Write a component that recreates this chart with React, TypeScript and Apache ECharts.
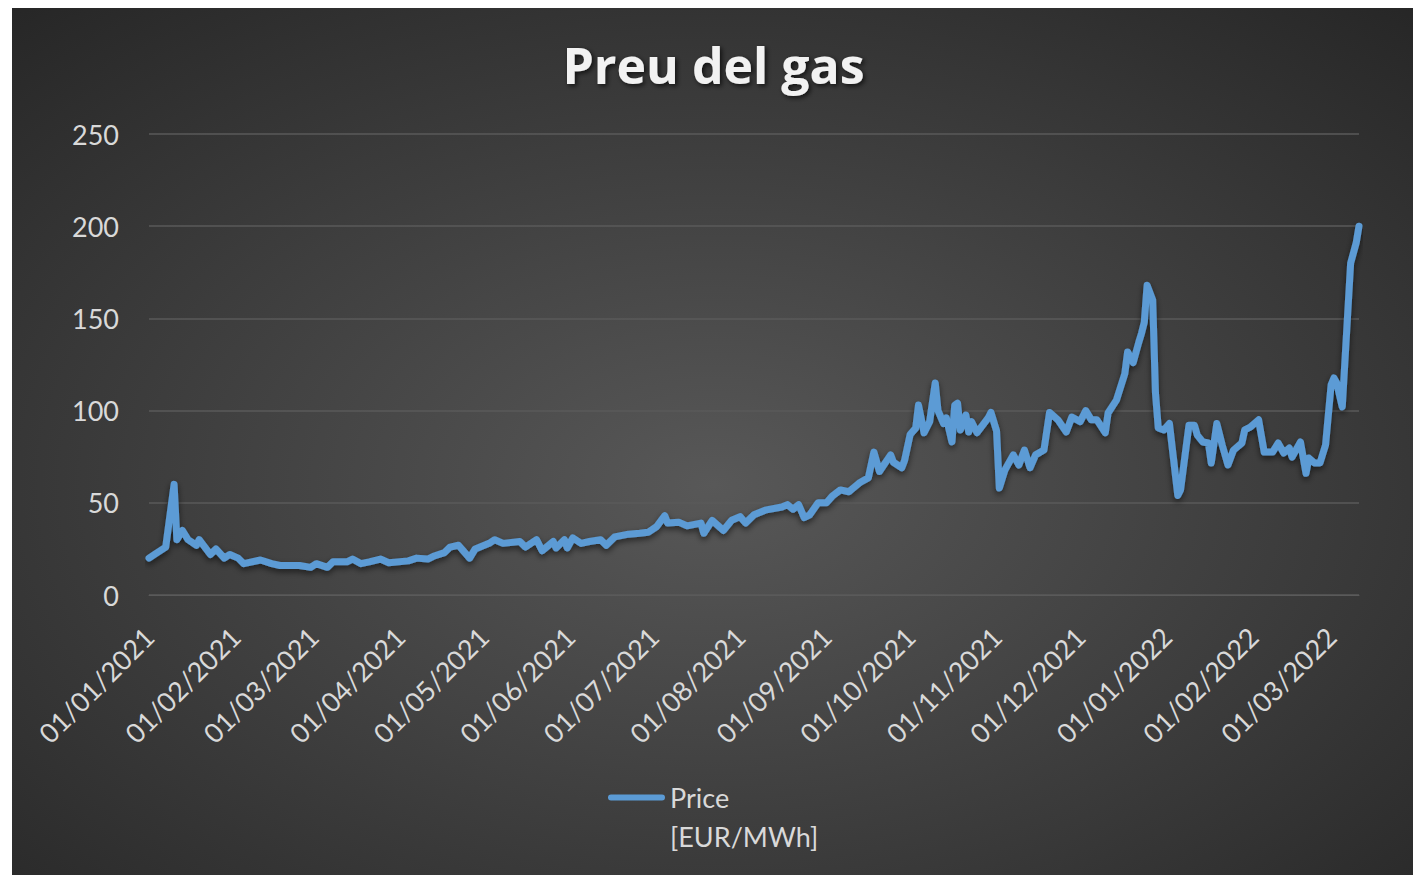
import React, { useEffect, useRef } from "react";
import * as echarts from "echarts";

const title = "Preu del gas";
const seriesName = "Price [EUR/MWh]";
const legendLines = ["Price", "[EUR/MWh]"];

const dates: string[] = [
  "2021-01-01","2021-01-03","2021-01-07","2021-01-10","2021-01-11","2021-01-13","2021-01-15","2021-01-18","2021-01-19","2021-01-23","2021-01-25","2021-01-28","2021-01-30",
  "2021-02-02","2021-02-04","2021-02-10","2021-02-14","2021-02-17","2021-02-24","2021-02-28",
  "2021-03-02","2021-03-06","2021-03-08","2021-03-13","2021-03-15","2021-03-18","2021-03-21","2021-03-25","2021-03-28",
  "2021-04-04","2021-04-07","2021-04-11","2021-04-13","2021-04-17","2021-04-19","2021-04-22","2021-04-26","2021-04-28",
  "2021-05-03","2021-05-05","2021-05-08","2021-05-14","2021-05-16","2021-05-20","2021-05-22","2021-05-26","2021-05-27","2021-05-30","2021-05-31",
  "2021-06-02","2021-06-05","2021-06-08","2021-06-12","2021-06-14","2021-06-17","2021-06-22","2021-06-26","2021-06-29",
  "2021-07-02","2021-07-05","2021-07-06","2021-07-10","2021-07-13","2021-07-18","2021-07-19","2021-07-22","2021-07-26","2021-07-29",
  "2021-08-01","2021-08-03","2021-08-06","2021-08-10","2021-08-16","2021-08-18","2021-08-20","2021-08-22","2021-08-24","2021-08-26","2021-08-29",
  "2021-09-01","2021-09-03","2021-09-06","2021-09-09","2021-09-11","2021-09-13","2021-09-16","2021-09-18","2021-09-20","2021-09-24","2021-09-25","2021-09-28","2021-09-29",
  "2021-10-01","2021-10-03","2021-10-04","2021-10-06","2021-10-08","2021-10-10","2021-10-11","2021-10-13","2021-10-14","2021-10-16","2021-10-17","2021-10-18","2021-10-19","2021-10-21","2021-10-22","2021-10-23","2021-10-25","2021-10-29","2021-10-30",
  "2021-11-01","2021-11-02","2021-11-04","2021-11-07","2021-11-09","2021-11-11","2021-11-13","2021-11-15","2021-11-18","2021-11-20","2021-11-23","2021-11-26","2021-11-28",
  "2021-12-01","2021-12-03","2021-12-05","2021-12-07","2021-12-10","2021-12-11","2021-12-14","2021-12-17","2021-12-18","2021-12-20","2021-12-22","2021-12-23","2021-12-24","2021-12-25","2021-12-27","2021-12-28","2021-12-29","2021-12-31",
  "2022-01-02","2022-01-03","2022-01-05","2022-01-06","2022-01-09","2022-01-11","2022-01-12","2022-01-14","2022-01-16","2022-01-17","2022-01-19","2022-01-21","2022-01-23","2022-01-25","2022-01-28","2022-01-29","2022-01-31",
  "2022-02-03","2022-02-05","2022-02-08","2022-02-10","2022-02-12","2022-02-14","2022-02-15","2022-02-18","2022-02-20","2022-02-21","2022-02-23","2022-02-25","2022-02-27",
  "2022-03-01","2022-03-02","2022-03-03","2022-03-05","2022-03-08","2022-03-10","2022-03-11",
];

const prices: number[] = [
  20, 22, 26, 60, 30, 35, 30, 27, 30, 22, 25, 20, 22,
  20, 17, 19, 17, 16, 16, 15,
  17, 15, 18, 18, 19.5, 17, 18, 19.5, 17.5,
  18.5, 20, 19.5, 21, 23, 26, 27, 20, 25,
  28, 30, 28, 29, 26, 30, 24, 29, 25.5, 30, 25.5,
  31, 28, 29, 30, 27, 31.5, 33, 33.5, 34,
  37, 43, 39, 39.5, 37.5, 39, 33.5, 40.5, 35, 40.5,
  42.5, 39, 43.5, 46, 47.7, 49, 46.5, 49, 42, 43.5, 50,
  50, 53.5, 57, 56, 58.5, 61, 63.5, 77.5, 67, 76, 72, 69, 73,
  87, 90.5, 103, 88, 94, 115, 100, 93, 96, 83, 103, 104, 89.5, 97.6, 88.4, 94, 88, 96, 99,
  89, 58, 67.8, 76, 70.5, 78.6, 69, 76, 78.6, 99, 95, 88.4, 96.5,
  94, 100, 95, 95, 88, 98.7, 105.7, 120, 131.8, 126, 137, 142, 148, 168, 160, 109.5, 90.6, 89.5,
  93, 80, 54, 57, 92, 92, 86.7, 83, 82.4, 71.6, 93, 81, 70.5, 78.6, 82.4, 89.5, 91,
  95, 77.5, 77.5, 82.4, 77, 79.7, 74.8, 83, 66, 74.3, 71.6, 71.6, 81.3,
  114, 117.7, 115, 102, 180, 191, 200,
];

const xMin = "2021-01-01";
const xMax = "2022-03-11";
const yTicks = [0, 50, 100, 150, 200, 250];

export default function App() {
  const ref = useRef<HTMLDivElement>(null);

  useEffect(() => {
    if (!ref.current) return;
    const chart = echarts.init(ref.current, undefined, { renderer: "svg" });
    const font = "Lato, 'Open Sans', sans-serif";
    chart.setOption({
      animation: false,
      backgroundColor: {
        type: "radial",
        x: 0.5,
        y: 0.55,
        r: 0.75,
        colorStops: [
          { offset: 0, color: "#585858" },
          { offset: 1, color: "#262626" },
        ],
      },
      title: {
        text: title,
        left: "center",
        top: 27,
        textStyle: {
          color: "#f2f2f2",
          fontSize: 50,
          fontWeight: "bold",
          fontFamily: "'Open Sans', sans-serif",
          textShadowColor: "rgba(0,0,0,0.7)",
          textShadowBlur: 5,
          textShadowOffsetX: 2,
          textShadowOffsetY: 2,
        },
      },
      legend: {
        left: 596,
        top: 770,
        padding: 0,
        icon: "path://M3,0 H54 A3,3 0 0 1 54,6 H3 A3,3 0 0 1 3,0 Z M0,44.9 H0.1 V45 H0 Z",
        itemWidth: 57,
        itemHeight: 45,
        itemGap: 0,
        formatter: () => legendLines.join("\n"),
        textStyle: {
          color: "#d9d9d9",
          fontSize: 27,
          fontFamily: font,
          lineHeight: 39,
        },
      },
      grid: {
        left: 137,
        right: 56,
        top: 126,
        bottom: 280,
        containLabel: false,
      },
      xAxis: {
        type: "time",
        min: xMin,
        max: xMax,
        splitNumber: 14,
        axisLine: { show: true, lineStyle: { color: "#5a5a5a", width: 1 } },
        axisTick: { show: false },
        splitLine: { show: false },
        axisLabel: {
          rotate: 45,
          margin: 37,
          color: "#d9d9d9",
          fontSize: 27,
          fontFamily: font,
          formatter: "{dd}/{MM}/{yyyy}",
          hideOverlap: false,
          showMaxLabel: false,
          showMinLabel: true,
        },
      },
      yAxis: {
        type: "value",
        min: yTicks[0],
        max: yTicks[yTicks.length - 1],
        interval: 50,
        axisLine: { show: false },
        axisTick: { show: false },
        splitLine: { lineStyle: { color: "#5a5a5a", width: 1.5 } },
        axisLabel: {
          margin: 30,
          color: "#d9d9d9",
          fontSize: 27,
          fontFamily: font,
        },
      },
      series: [
        {
          name: seriesName,
          type: "line",
          data: dates.map((d, i) => [d, prices[i]]),
          showSymbol: false,
          symbol: "none",
          lineStyle: {
            color: "#5b9bd5",
            width: 7,
            cap: "round",
            join: "round",
            shadowColor: "rgba(0,0,0,0.55)",
            shadowBlur: 6,
            shadowOffsetY: 3,
          },
          itemStyle: { color: "#5b9bd5" },
        },
      ],
    });
    return () => chart.dispose();
  }, []);

  return (
    <div
      ref={ref}
      style={{ width: 1403, height: 867, marginLeft: 4 }}
    />
  );
}
